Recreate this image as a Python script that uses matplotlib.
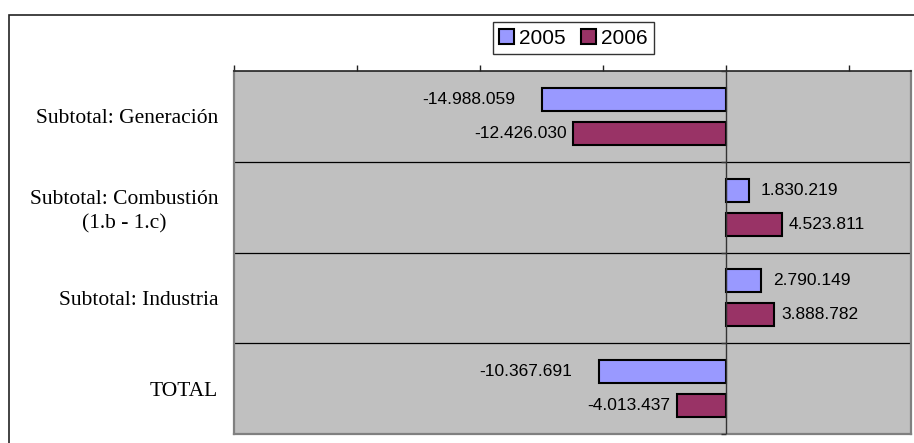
import numpy as np
import matplotlib.pyplot as plt
from matplotlib.patches import Rectangle

# data
categories = ['Subtotal: Generación', 'Subtotal: Combustión\n(1.b - 1.c)',
              'Subtotal: Industria', 'TOTAL']
years = ['2005', '2006']
values_2005 = [-14988059, 1830219, 2790149, -10367691]
values_2006 = [-12426030, 4523811, 3888782, -4013437]
x_ticks = [-40e6, -30e6, -20e6, -10e6, 0, 10e6]

colors = ['#9999FF', '#993366']
# label gap from bar end, in pixels (negative side, positive side)
label_gap = [(27, 12), (7, 7)]

def fmt(v):
    return f'{v:,}'.replace(',', '.')

fig = plt.figure(figsize=(9.14, 4.43), dpi=100)
W, H = 914, 443
ax = fig.add_axes([234 / W, 1 - 434 / H, (911 - 234) / W, (434 - 71) / H])
ax.set_facecolor('#C0C0C0')

# outer frame of the chart object (runs off the right and bottom edges)
fig.patches.append(Rectangle((9 / W, -0.1), 1.0, 1 - 15 / H + 0.1, transform=fig.transFigure,
                             fill=False, edgecolor='#222222', linewidth=1.2, zorder=0))

y = np.arange(len(categories))
offset = 17 / 91
height = 23 / 91
series = [values_2005, values_2006]
for k, vals in enumerate(series):
    pos = y - offset if k == 0 else y + offset
    bars = ax.barh(pos, vals, height=height, color=colors[k], edgecolor='black',
                   linewidth=1.5, label=years[k], zorder=3)
    for b, v in zip(bars, vals):
        cy = b.get_y() + b.get_height() / 2
        if v < 0:
            ax.annotate(fmt(v), (v, cy), xytext=(-label_gap[k][0] * 0.72, 0),
                        textcoords='offset points', ha='right', va='center',
                        fontsize=12.5, family='Liberation Sans', color='black')
        else:
            ax.annotate(fmt(v), (v, cy), xytext=(label_gap[k][1] * 0.72, 0),
                        textcoords='offset points', ha='left', va='center',
                        fontsize=12.5, family='Liberation Sans', color='black')

ax.set_xlim(-40e6, 15e6)
ax.set_ylim(len(categories) - 0.5, -0.5)

# x axis on top, ticks without labels
ax.xaxis.tick_top()
ax.set_xticks(x_ticks)
ax.set_xticklabels([])
ax.tick_params(axis='x', direction='out', length=4.5, width=1, color='#222222')

# category labels
ax.set_yticks(y)
ax.set_yticklabels(categories, fontsize=15.5, family='Liberation Serif',
                   multialignment='center', linespacing=1.35)
ax.tick_params(axis='y', length=0, pad=11.5)

# separators between categories
bounds = np.arange(len(categories) - 1) + 0.5
for b in bounds:
    ax.axhline(b, color='black', linewidth=0.9, zorder=1)

# vertical axis at zero with small ticks at category boundaries
ax.axvline(0, color='#333333', linewidth=1, zorder=4)
ax.plot(np.zeros(len(categories) + 1), np.arange(len(categories) + 1) - 0.5, ls='none',
        marker=0, markersize=3.5, markeredgewidth=1, color='#333333', zorder=4, clip_on=False)

for s in ['left', 'right', 'bottom']:
    ax.spines[s].set_color('#808080')
    ax.spines[s].set_linewidth(1.6)
ax.spines['top'].set_color('#222222')
ax.spines['top'].set_linewidth(1.2)

leg = fig.legend(loc='center', bbox_to_anchor=(573.5 / W, 1 - 38 / H), ncol=2,
                 prop={'family': 'Liberation Sans', 'size': 15}, frameon=True, fancybox=False,
                 handlelength=0.7, handleheight=0.7, handletextpad=0.25, columnspacing=0.75,
                 borderpad=0.3, borderaxespad=0)
leg.get_frame().set_edgecolor('black')
leg.get_frame().set_linewidth(1)

fig.savefig('out.png', dpi=100)
